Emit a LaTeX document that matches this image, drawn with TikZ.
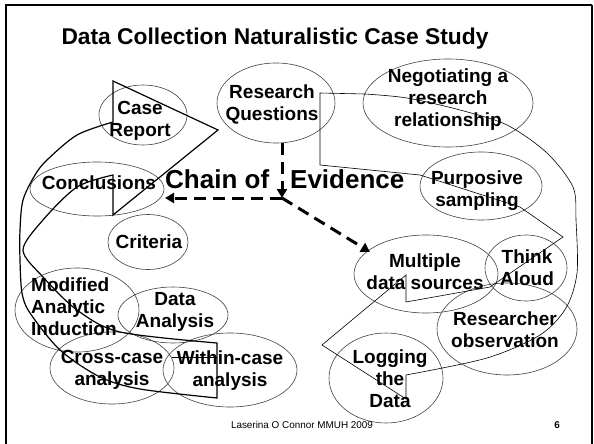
\documentclass[tikz,border=0pt]{standalone}
\usepackage{fontspec}
\setmainfont{Liberation Sans}
\usetikzlibrary{shapes.geometric,arrows.meta}
\begin{document}
\begin{tikzpicture}[x=1pt, y=-1pt,
  bubble/.style={draw=black!75, line width=0.6pt, ellipse, inner sep=0pt},
  lbl/.style={font=\fontsize{19}{22}\selectfont\bfseries, align=center, inner sep=0pt},
  chainarrow/.style={line width=3pt, dash pattern=on 12pt off 7pt, -{Triangle[length=9pt,width=10pt]}},
  band/.style={line width=1.2pt},
  thinband/.style={line width=0.6pt}]
  \useasboundingbox (0,0) rectangle (594,444);
  % Rahmen
  \draw[line width=2.8pt] (6,444) -- (6,5) -- (592,5);
  \draw[line width=1.8pt] (592,5) -- (592,444);
  % Titel
  \node[font=\fontsize{22.8}{26}\selectfont\bfseries, anchor=base, inner sep=0pt] (title) at (275,45) {Data Collection Naturalistic Case Study};

  % Ellipsen
  \node[bubble, minimum width=88pt, minimum height=60pt] (caserep) at (143,115) {};
  \node[bubble, minimum width=118pt, minimum height=80pt] (rq) at (276,103) {};
  \node[bubble, minimum width=170pt, minimum height=88pt] (negot) at (448,103) {};
  \node[bubble, minimum width=134pt, minimum height=54pt] (concl) at (97,189) {};
  \node[bubble, minimum width=122pt, minimum height=68pt] (purp) at (481,186) {};
  \node[bubble, minimum width=80pt, minimum height=55pt] (crit) at (148,242) {};
  \node[bubble, minimum width=124pt, minimum height=84pt] (modif) at (77,310) {};
  \node[bubble, minimum width=110pt, minimum height=56pt] (danal) at (173,315) {};
  \node[bubble, minimum width=124pt, minimum height=72pt] (cross) at (112,368) {};
  \node[bubble, minimum width=134pt, minimum height=74pt] (within) at (230,370) {};
  \node[bubble, minimum width=144pt, minimum height=78pt] (multi) at (426,274) {};
  \node[bubble, minimum width=82pt, minimum height=66pt] (think) at (526,268) {};
  \node[bubble, minimum width=140pt, minimum height=92pt] (resobs) at (507,329) {};
  \node[bubble, minimum width=114pt, minimum height=90pt] (logg) at (386,378) {};

  % gebogener Pfeil links
  \draw[band] (218,130) -- (113,81) -- (113,122)
    -- plot[smooth] coordinates {(113,122) (77,135) (47,160) (35,175) (23,200) (20,230) (20,260) (22,293) (30,313) (60,350) (100,377) (140,389) (217,398)}
    -- (217,343)
    -- plot[smooth] coordinates {(217,343) (120,332) (77,310) (43,277) (23,250) (43,220) (77,187) (113,175)}
    -- (113,215) -- cycle;
  \draw[thinband] (172,357) -- (217,357);

  % gebogener Pfeil rechts
  \draw[thinband] (406,302) -- (406,275) -- (322,345) -- (406,399) -- (406,375)
    -- plot[smooth] coordinates {(406,375) (487,358) (540,335) (566,308) (577,273) (576,220) (573,187) (547,153) (507,125) (460,110) (407,98) (365,94)}
    -- (320,93) -- (320,165) -- (420,175) -- (520,207) -- (563,237) -- (490,287) -- cycle;

  % Beschriftungen
  \node[lbl] (caserep-t) at (140,121) {Case\\Report};
  \node[lbl] (rq-t) at (272,104) {Research\\Questions};
  \node[lbl] (negot-t) at (448,100) {Negotiating a\\research\\relationship};
  \node[lbl, anchor=base] (concl-t) at (99,189) {Conclusions};
  \node[lbl] (purp-t) at (477,191) {Purposive\\sampling};
  \node[lbl, anchor=base] (crit-t) at (149,248) {Criteria};
  \node[lbl, align=left, anchor=west] (modif-t) at (31,307) {Modified\\Analytic\\Induction};
  \node[lbl] (danal-t) at (175,312) {Data\\Analysis};
  \node[lbl] (cross-t) at (112,370) {Cross-case\\analysis};
  \node[lbl] (within-t) at (230,371) {Within-case\\analysis};
  \node[lbl] (multi-t) at (425,272) {Multiple\\data sources};
  \node[lbl] (think-t) at (527,268) {Think\\Aloud};
  \node[lbl] (resobs-t) at (505,330) {Researcher\\observation};
  \node[lbl] (logg-t) at (390,379) {Logging\\the\\Data};

  % Chain of Evidence
  \node[font=\fontsize{26}{30}\selectfont\bfseries, anchor=base west, inner sep=0pt] (chain) at (165,188) {Chain of\hspace{21pt}Evidence};
  \coordinate (junc) at (282,198);
  \coordinate (leftend) at (165,198);
  \coordinate (multiend) at (370,252);
  \draw[chainarrow] (rq.south -| junc) -- (junc);
  \draw[chainarrow] (junc) -- (leftend);
  \draw[chainarrow] (junc) -- (multiend);

  % Fusszeile
  \node[font=\fontsize{9.9}{12}\selectfont, anchor=base, inner sep=0pt] (foot) at (302,428) {Laserina O Connor MMUH 2009};
  \node[font=\fontsize{9.9}{12}\selectfont\bfseries, anchor=base, inner sep=0pt] (pagenum) at (557,428) {6};
\end{tikzpicture}
\end{document}
